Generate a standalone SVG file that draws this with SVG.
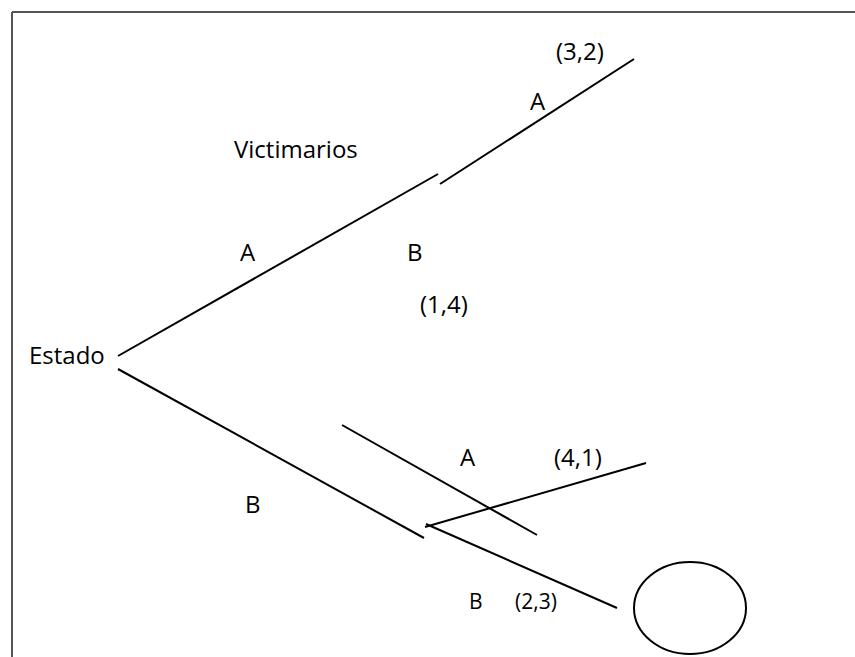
<svg xmlns="http://www.w3.org/2000/svg" width="855" height="657" viewBox="0 0 855 657">
<style>
text{font-family:"Open Sans","Noto Sans",sans-serif;font-size:24px;fill:#000}
.s{font-size:21px}
.e{stroke:#000;stroke-width:2;fill:none}
</style>
<rect x="0" y="0" width="855" height="657" fill="#fff"/>
<path d="M12 12H870M12 12V670" stroke="#555" stroke-width="2" fill="none"/>
<g id="connectors">
<line class="e" x1="118" y1="356" x2="438" y2="174"/>
<line class="e" x1="440" y1="184" x2="634" y2="59"/>
<line class="e" x1="118" y1="369" x2="424" y2="538"/>
<line class="e" x1="342" y1="425" x2="537" y2="535"/>
<line class="e" x1="425" y1="527" x2="646" y2="463"/>
<line class="e" x1="426" y1="524" x2="617" y2="608"/>
</g>
<g id="estado"><text x="29" y="364">Estado</text></g>
<g id="victimarios"><text x="234" y="158">Victimarios</text></g>
<g id="labels">
<text x="556" y="60">(3,2)</text>
<text x="530" y="110">A</text>
<text x="240" y="261">A</text>
<text x="407" y="261">B</text>
<text x="420" y="313">(1,4)</text>
<text x="460" y="466">A</text>
<text x="554" y="466">(4,1)</text>
<text x="245" y="513">B</text>
<text class="s" x="469" y="609">B</text>
<text class="s" x="515" y="609">(2,3)</text>
</g>
<g id="circle"><ellipse class="e" cx="690" cy="608" rx="56" ry="46"/></g>
</svg>
